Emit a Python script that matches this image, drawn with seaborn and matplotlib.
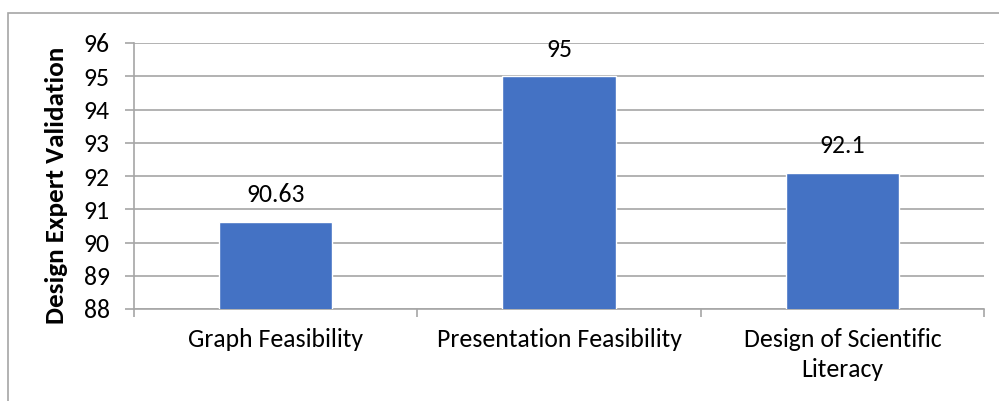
import matplotlib
matplotlib.use("Agg")
import matplotlib.pyplot as plt
import seaborn as sns
import pandas as pd
from matplotlib.patches import Rectangle

categories = ["Graph Feasibility", "Presentation Feasibility", "Design of Scientific\nLiteracy"]
values = [90.63, 95, 92.1]
value_labels = ["90.63", "95", "92.1"]
y_ticks = [88, 89, 90, 91, 92, 93, 94, 95, 96]
y_label = "Design Expert Validation"

sns.set_theme(style="white")
plt.rcParams["font.family"] = ["Carlito", "Open Sans", "DejaVu Sans"]

FS = 18.5

df = pd.DataFrame({"cat": categories, "val": values})

fig = plt.figure(figsize=(9.99, 4.01), dpi=100)
ax = fig.add_axes([134/999, 1-309/401, (984-134)/999, (309-43)/401])

grid_c = "#A6A6A6"
sns.barplot(data=df, x="cat", y="val", color="#4472C4", width=0.40,
            saturation=1, ax=ax, zorder=3)
ax.set_ylim(88, 96)
ax.set_xlim(-0.5, 2.5)
ax.set_yticks(y_ticks)
ax.set_yticklabels([str(t) for t in y_ticks], fontsize=FS, color="#000000")
ax.yaxis.grid(True, color=grid_c, linewidth=1.2, zorder=0)
ax.set_axisbelow(True)

for s in ["top", "right"]:
    ax.spines[s].set_visible(False)
for s in ["left", "bottom"]:
    ax.spines[s].set_color(grid_c)
    ax.spines[s].set_linewidth(1.2)

ax.tick_params(axis="y", length=6.5, width=1.2, color=grid_c, pad=11, left=True)
ax.set_xticks([0, 1, 2])
ax.set_xticklabels(categories, fontsize=FS, color="#000000", linespacing=1.35)
ax.tick_params(axis="x", length=0, pad=14)
ax.set_xticks([-0.5, 0.5, 1.5, 2.5], minor=True)
ax.tick_params(axis="x", which="minor", length=6, width=1.2, color=grid_c, bottom=True)

ax.set_xlabel("")
ax.set_ylabel(y_label, fontsize=19.5, fontweight="bold", color="#000000")
ax.yaxis.set_label_coords((68 - 134) / 850, (309 - 185) / 266)

for i, (v, lab) in enumerate(zip(values, value_labels)):
    ax.annotate(lab, (i, v), xytext=(0, 14), textcoords="offset points",
                ha="center", va="baseline", fontsize=FS, color="#000000",
                annotation_clip=False)

fig.patches.append(Rectangle((8/999, -0.2), 1.5, 1.2 - 13/401, fill=False,
                             edgecolor=grid_c, linewidth=1.2,
                             transform=fig.transFigure, figure=fig))

fig.savefig("out.png", dpi=100)
